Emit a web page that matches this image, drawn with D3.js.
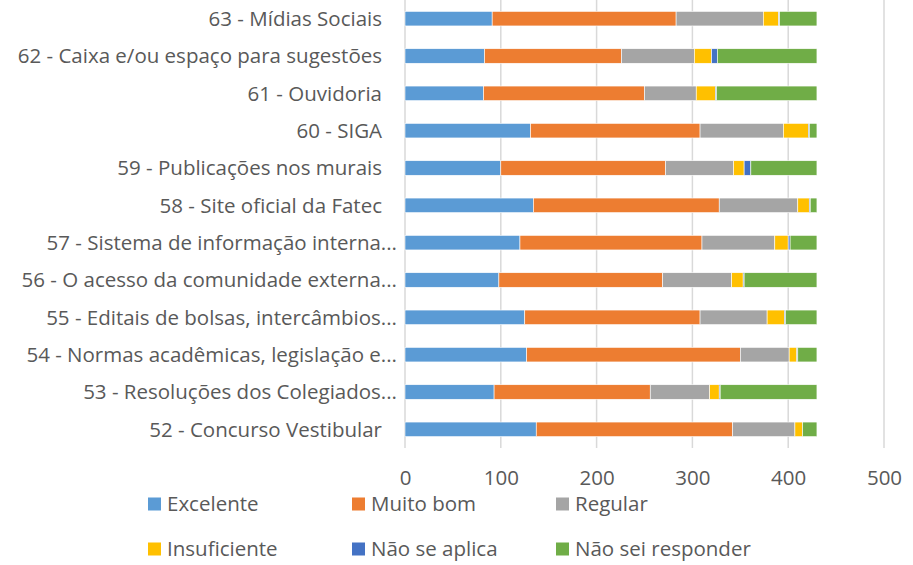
<!DOCTYPE html>
<html>
<head>
<meta charset="utf-8">
<script src="https://cdn.jsdelivr.net/npm/d3@7"></script>
<style>
  body { margin: 0; background: #fff; }
  svg { display: block; font-family: "Open Sans", sans-serif; }
</style>
</head>
<body>
<svg id="chart" width="913" height="565"></svg>
<script>
// categories listed top to bottom, as in the picture
var categories = [
  '63 - Mídias Sociais',
  '62 - Caixa e/ou espaço para sugestões',
  '61 - Ouvidoria',
  '60 - SIGA',
  '59 - Publicações nos murais',
  '58 - Site oficial da Fatec',
  '57 - Sistema de informação interna...',
  '56 - O acesso da comunidade externa...',
  '55 - Editais de bolsas, intercâmbios...',
  '54 - Normas acadêmicas, legislação e...',
  '53 - Resoluções dos Colegiados...',
  '52 - Concurso Vestibular'
]

var seriesNames = ['Excelente', 'Muito bom', 'Regular', 'Insuficiente', 'Não se aplica', 'Não sei responder']
var seriesColors = ['#5b9bd5', '#ed7d31', '#a5a5a5', '#ffc000', '#4472c4', '#70ad47']

var excelente       = [91, 83, 82, 131, 100, 134, 120, 98, 125, 127, 93, 137]
var muitoBom        = [192, 143, 168, 177, 172, 194, 190, 171, 183, 223, 163, 205]
var regular         = [91, 76, 54, 87, 71, 82, 76, 72, 70, 51, 62, 65]
var insuficiente    = [16, 18, 20, 26, 11, 12, 14, 12, 18, 8, 10, 8]
var naoSeAplica     = [1, 6, 1, 1, 7, 1, 2, 1, 1, 1, 1, 0]
var naoSeiResponder = [39, 104, 105, 8, 69, 7, 28, 76, 33, 20, 101, 15]

var tickValues = [0, 100, 200, 300, 400, 500]

var allSeries = [excelente, muitoBom, regular, insuficiente, naoSeAplica, naoSeiResponder]

// build rows for d3.stack
var rows = categories.map(function(c, i) {
  var r = { category: c }
  seriesNames.forEach(function(s, j) { r[s] = allSeries[j][i] })
  return r
})

var svg = d3.select('#chart')
  , plotLeft = 405
  , plotRight = 884
  , plotTop = 0
  , plotBottom = 448
  , textColor = '#595959'
  , fontSize = '20.5px'

var x = d3.scaleLinear().domain([0, 500]).range([plotLeft, plotRight])
var y = d3.scaleBand().domain(categories).range([plotTop, plotBottom]).paddingInner(0.61).paddingOuter(0.305)
var color = d3.scaleOrdinal().domain(seriesNames).range(seriesColors)

// gridlines
svg.append('g').selectAll('line').data(tickValues).enter().append('line')
  .attr('x1', function(d) { return x(d) }).attr('x2', function(d) { return x(d) })
  .attr('y1', plotTop).attr('y2', plotBottom)
  .attr('stroke', '#d9d9d9').attr('stroke-width', 1.5)

// bars
var stacked = d3.stack().keys(seriesNames)(rows)
svg.append('g').selectAll('g').data(stacked).enter().append('g')
    .attr('fill', function(d) { return color(d.key) })
  .selectAll('rect').data(function(d) { return d }).enter().append('rect')
    .attr('x', function(d) { return x(d[0]) })
    .attr('width', function(d) { return Math.max(0, x(d[1]) - x(d[0])) })
    .attr('y', function(d) { return y(d.data.category) })
    .attr('height', y.bandwidth())
    .attr('stroke', '#fff').attr('stroke-width', 0.6)

// category labels; Excel pushes the truncated ones a bit closer to the axis
svg.append('g').selectAll('text').data(categories).enter().append('text')
  .attr('x', function(d) { return /\.\.\.$/.test(d) ? 397 : 382 })
  .attr('y', function(d) { return y(d) + y.bandwidth() / 2 })
  .attr('dy', '0.35em')
  .attr('text-anchor', 'end')
  .attr('fill', textColor)
  .style('font-size', fontSize)
  .text(function(d) { return d })

// x axis tick labels
var xAxis = svg.append('g').attr('transform', 'translate(0,' + (plotBottom + 30) + ')')
  .call(d3.axisBottom(x).tickValues(tickValues).tickSize(0).tickPadding(0))
xAxis.select('.domain').remove()
xAxis.selectAll('text')
  .attr('dy', '0.35em')
  .attr('fill', textColor)
  .style('font-size', fontSize)
  .style('font-family', '"Open Sans", sans-serif')

// legend, three columns by two rows
var legend = svg.append('g').selectAll('g').data(seriesNames).enter().append('g')
  .attr('transform', function(d, i) {
    return 'translate(' + (148 + (i % 3) * 204) + ',' + (504 + Math.floor(i / 3) * 45) + ')'
  })
legend.append('rect')
  .attr('x', 0).attr('y', -6.5).attr('width', 13).attr('height', 13)
  .attr('fill', function(d) { return color(d) })
legend.append('text')
  .attr('x', 19).attr('dy', '0.35em')
  .attr('fill', textColor)
  .style('font-size', fontSize)
  .text(function(d) { return d })
</script>
</body>
</html>
